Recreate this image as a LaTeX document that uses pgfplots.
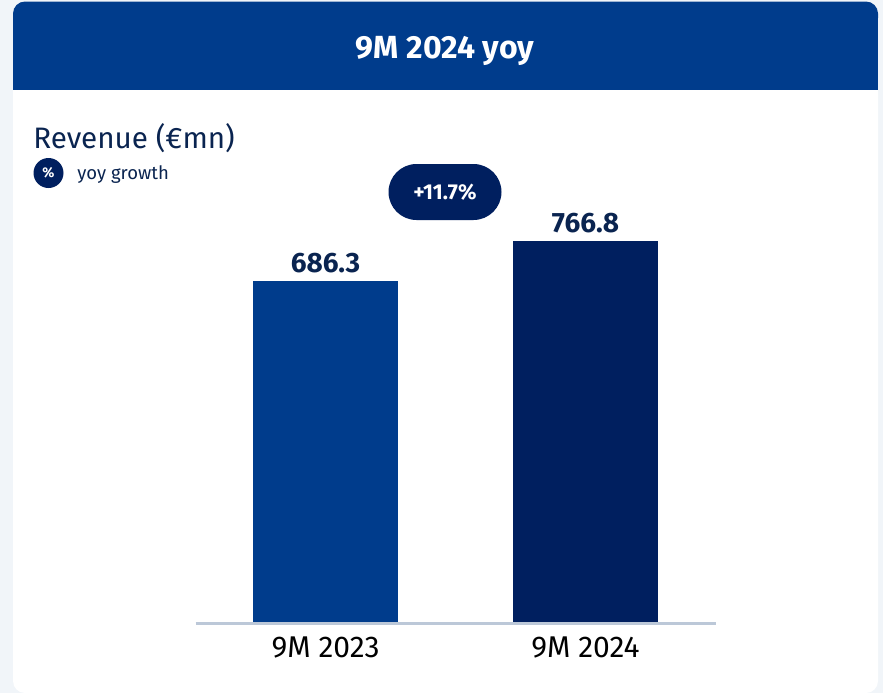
\documentclass[border=0pt]{standalone}
\usepackage{fontspec}
\setmainfont{Fira Sans}
\usepackage{pgfplots}
\pgfplotsset{compat=1.18}
\newlength\px
\setlength\px{0.75pt}
\definecolor{pagebg}{HTML}{F1F5F9}
\definecolor{headblue}{HTML}{003C8C}
\definecolor{navy}{HTML}{001F5F}
\definecolor{inkblue}{HTML}{0A2450}
\definecolor{axisgrey}{HTML}{BCC8D8}

\begin{document}
\begin{tikzpicture}[x=\px,y=\px]
  \useasboundingbox (0,0) rectangle (883,-693);
  \fill[pagebg] (0,0) rectangle (883,-693);
  % card and header
  \fill[white,rounded corners=12\px] (13,-1.5) rectangle (878,-693);
  \fill[headblue,rounded corners=12\px] (13,-1.5) rectangle (878,-30);
  \fill[headblue] (13,-15) rectangle (878,-90);
  \node[text=white,font=\fontsize{32\px}{36\px}\selectfont\bfseries] at (445,-50.5) {9M 2024 yoy};
  \node[text=inkblue,anchor=base west,inner sep=0pt,font=\fontsize{29.6\px}{34\px}\selectfont] at (33,-148) {Revenue (€mn)};
  \fill[navy] (48.5,-173) circle (15);
  \node[text=white,font=\fontsize{14\px}{16\px}\selectfont\bfseries] at (48.5,-173) {\%};
  \node[text=inkblue,anchor=base west,inner sep=0pt,font=\fontsize{18.5\px}{22\px}\selectfont] at (77,-179) {yoy growth};
  \begin{axis}[
    at={(325.5\px,-622\px)}, anchor=origin,
    scale only axis,
    width=520\px, height=398.8\px,
    xmin=-0.5, xmax=1.5,
    ymin=-2.6, ymax=800,
    axis x line=bottom, axis y line=none,
    axis line style={-,axisgrey,line width=3.2\px},
    xtick={0,1},
    xticklabels={9M 2023,9M 2024},
    major tick length=0pt,
    tick style={draw=none},
    xticklabel style={text=black,font=\fontsize{30\px}{34\px}\selectfont,yshift=-9\px},
    bar width=145\px,
    nodes near coords,
    point meta=y,
    every node near coord/.append style={text=inkblue,font=\fontsize{28\px}{32\px}\selectfont\bfseries,yshift=3\px,
      /pgf/number format/assume math mode=true,/pgf/number format/fixed,/pgf/number format/precision=1,/pgf/number format/fixed zerofill},
    clip=false,
  ]
    \addplot[ybar,bar shift=0pt,fill=headblue,draw=none] coordinates {(0,686.3)};
    \addplot[ybar,bar shift=0pt,fill=navy,draw=none] coordinates {(1,766.8)};
  \end{axis}
  \node[fill=navy,text=white,rounded corners=28\px,minimum width=113\px,minimum height=56\px,inner sep=0pt,
    font=\fontsize{21.5\px}{25\px}\selectfont\bfseries] at (445,-192) {+11.7\%};
\end{tikzpicture}
\end{document}
